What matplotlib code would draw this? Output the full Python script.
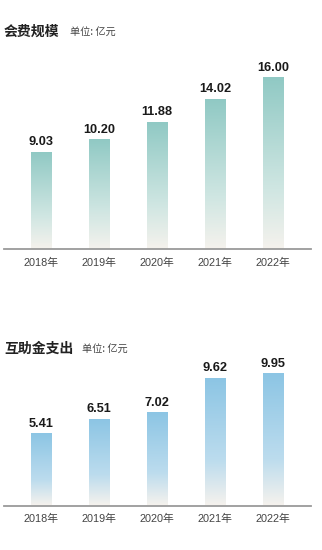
import numpy as np
import matplotlib
matplotlib.use("Agg")
import matplotlib.pyplot as plt
from matplotlib.colors import LinearSegmentedColormap

plt.rcParams['font.family'] = ['Liberation Sans', 'Noto Sans CJK SC', 'DejaVu Sans']

# data (unit: 100 million yuan)
years = ['2018年', '2019年', '2020年', '2021年', '2022年']
fees = [9.03, 10.20, 11.88, 14.02, 16.00]
payouts = [5.41, 6.51, 7.02, 9.62, 9.95]

W, H = 322, 550
fig = plt.figure(figsize=(W / 100, H / 100), dpi=100)
fig.patch.set_facecolor('white')

teal = LinearSegmentedColormap.from_list(
    'teal', [(0, '#f5f2ed'), (0.35, '#cfe6e2'), (1, '#90c9c4')])
blue = LinearSegmentedColormap.from_list(
    'blue', [(0, '#f5f2ed'), (0.35, '#bcdcee'), (1, '#8cc5e4')])


def px_axes(left, right, top, bottom):
    # axes placed by pixel edges (y measured from top)
    return fig.add_axes([left / W, 1 - bottom / H, (right - left) / W, (bottom - top) / H])


def draw_panel(ax, values, cmap, ymax):
    x = np.arange(len(values))
    bw = 0.36
    grad = np.linspace(0, 1, 256).reshape(-1, 1)
    for xi, v in zip(x, values):
        ax.imshow(grad, cmap=cmap, origin='lower', aspect='auto',
                  extent=(xi - bw / 2, xi + bw / 2, 0, v), zorder=2)
        ax.annotate(f'{v:.2f}', (xi, v), xytext=(0, 3), textcoords='offset points',
                    ha='center', va='bottom', fontsize=9.2, fontweight='bold',
                    color='#1a1a1a')
    ax.set_xlim(-0.647, 4.655)
    ax.set_ylim(0, ymax)
    ax.set_xticks(x)
    ax.set_xticklabels(years, fontsize=7.8, color='#444444')
    ax.tick_params(axis='x', length=0, pad=6)
    ax.set_yticks([])
    for s in ['top', 'left', 'right']:
        ax.spines[s].set_visible(False)
    ax.spines['bottom'].set_color('#9a9a9a')
    ax.spines['bottom'].set_linewidth(1.3)
    ax.set_facecolor('none')


ax1 = px_axes(4, 311, 60, 249)
draw_panel(ax1, fees, teal, 189 / 10.69)

ax2 = px_axes(4, 311, 346, 505.5)
draw_panel(ax2, payouts, blue, 159.5 / 13.2)

# panel titles
fig.text(4 / W, 1 - 32 / H, '会费规模', fontsize=10, fontweight='bold',
         color='#222222', va='center', family=['Noto Sans CJK SC'])
fig.text(70 / W, 1 - 32 / H, '单位: 亿元', fontsize=7.3, color='#444444',
         va='center', family=['Noto Sans CJK SC'])
fig.text(4 / W, 1 - 349 / H, '互助金支出', fontsize=10, fontweight='bold',
         color='#222222', va='center', family=['Noto Sans CJK SC'])
fig.text(82 / W, 1 - 349 / H, '单位: 亿元', fontsize=7.3, color='#444444',
         va='center', family=['Noto Sans CJK SC'])

fig.savefig('out.png', dpi=100)
